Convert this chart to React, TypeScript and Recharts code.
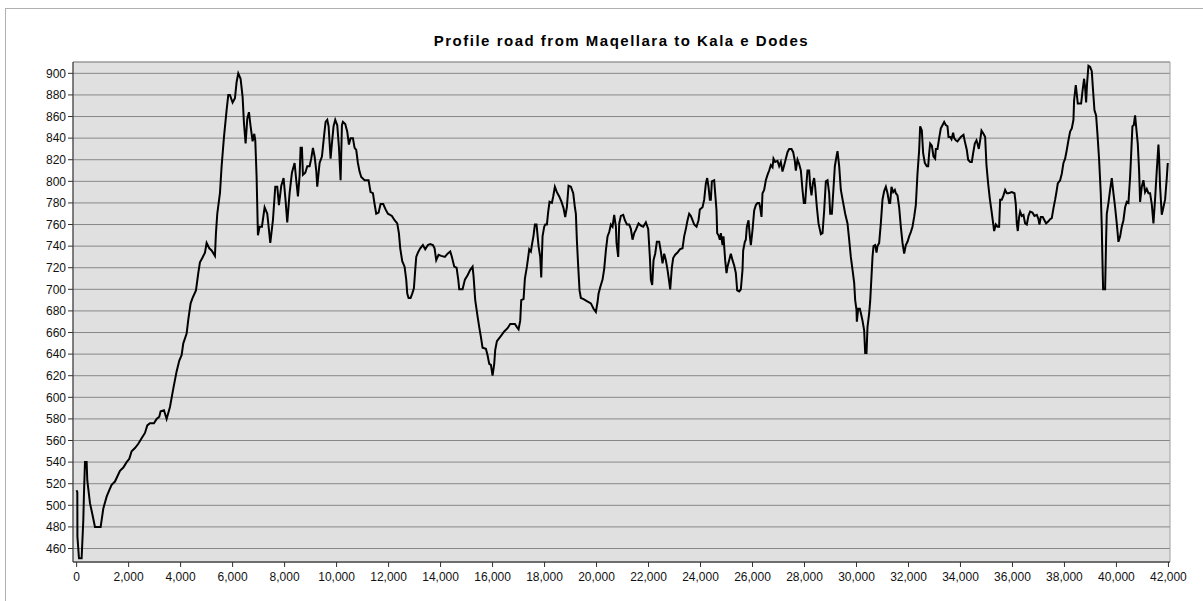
import React from 'react';
import { LineChart, Line, XAxis, YAxis, CartesianGrid, ReferenceArea } from 'recharts';

const chartTitle = 'Profile road from Maqellara to Kala e Dodes';

const distance1 = [0,26,30,90,192,256,282,321,385,410,513,603,705,923,1026,1154,1256,1346,1474,1667,1795,1923,2026,2115,2244,2372,2500,2628,2718,2820,2974,3077,3179,3231,3359,3461,3590,3718,3846,3949,4038,4103,4231,4295,4385,4461,4590,4679,4743,4833,4936,5000,5103,5192,5320,5359,5410,5513,5577,5667,5769,5833,5897,6000,6090,6154,6218,6307,6385,6436,6500,6564,6628,6692,6769,6833,6872,6923];
const elevation1 = [514,512,471,451,451,486,511,540,540,523,502,492,480,480,497,508,514,519,522,532,535,540,543,550,553,557,562,567,574,576,576,580,582,587,588,580,591,608,624,634,639,650,659,672,687,692,699,715,725,729,734,743,738,736,731,752,770,789,814,841,866,880,880,873,877,892,900,895,878,854,835,858,864,851,837,844,838,804];

const distance2 = [6974,7038,7128,7231,7333,7449,7551,7641,7718,7782,7872,7961,8038,8102,8192,8282,8384,8448,8513,8577,8615,8666,8705,8795,8872,8961,9025,9090,9154,9218,9256,9346,9436,9513,9577,9641,9692,9769,9820,9884,9948,10025,10089,10154,10205,10243,10333,10410,10474,10538,10628,10692,10756,10820,10884,10948,11077,11230,11307,11397,11461,11525,11615,11692,11795,11884,11974,12128,12230,12333,12397,12448,12525,12615,12679,12718,12769,12846,12910,12974,13025,13064,13128,13218,13320,13410,13512,13602,13705,13769,13833,13923,14025];
const elevation2 = [750,758,758,776,770,743,764,795,795,778,796,803,782,762,789,808,817,801,786,805,831,831,806,808,814,814,821,831,823,810,795,817,823,841,855,857,851,821,835,851,857,852,832,801,852,855,853,846,834,840,840,831,829,817,809,804,801,801,790,789,779,770,771,779,779,774,770,768,764,761,752,738,726,721,709,696,692,692,696,701,718,730,734,738,741,737,741,742,741,738,727,732,731];

const distance3 = [14167,14269,14372,14436,14526,14616,14680,14718,14846,14936,15039,15141,15231,15269,15333,15423,15487,15551,15615,15744,15808,15872,15936,16000,16064,16103,16167,16295,16449,16577,16680,16769,16859,16936,17000,17064,17103,17192,17244,17321,17372,17410,17474,17513,17577,17628,17692,17769,17833,17872,17923,17987,18026,18090,18141,18192,18282,18333,18397,18474,18564,18654,18731,18795,18859,18923,19013,19103,19167,19205,19244,19295,19346,19397,19500,19628,19782,19885,19974,20038,20077,20141,20231,20295,20359,20423,20487,20551,20615,20679,20744,20769,20833,20872,20936,21026,21090,21167,21256];
const elevation3 = [730,733,735,730,721,720,709,700,700,709,713,718,721,712,690,675,665,656,646,645,639,631,630,620,631,644,652,656,661,664,668,668,668,665,663,671,690,691,710,721,730,737,735,741,750,760,760,740,730,711,749,758,760,760,772,781,780,786,795,790,786,781,775,767,776,796,795,789,776,770,745,721,699,692,691,689,687,682,679,688,696,702,709,719,736,749,753,760,758,769,758,743,730,761,768,769,764,760,760];

const distance4 = [21320,21384,21449,21513,21615,21705,21795,21897,21987,22051,22090,22141,22192,22256,22320,22410,22474,22538,22602,22666,22731,22795,22833,22897,22948,23025,23115,23205,23307,23371,23436,23500,23564,23628,23692,23756,23846,23923,23974,24077,24141,24205,24256,24307,24359,24397,24436,24525,24564,24615,24641,24692,24743,24782,24846,24884,24948,25000,25038,25102,25166,25230,25295,25359,25410,25487,25551,25615,25641,25705,25743,25782,25846,25897,25936,26000,26064,26128,26192,26256,26294,26346,26384,26448,26512,26577,26641,26705,26769,26807,26871,26961,27025,27089,27153,27218,27282,27346,27410,27500,27564,27628,27666,27730,27794,27859,27923,27974,28025,28076,28115,28179,28217,28269,28320,28371,28410];
const elevation4 = [756,746,752,755,761,759,758,762,756,730,709,704,727,733,744,744,735,724,733,727,718,707,700,720,729,732,734,737,738,749,756,764,770,768,764,760,758,764,774,776,783,798,803,795,783,783,800,801,789,773,752,750,746,752,741,749,727,715,721,727,733,727,722,715,699,698,700,718,736,744,746,758,764,749,741,755,773,778,780,780,776,767,789,792,801,806,810,815,813,821,818,819,814,818,809,815,821,827,830,830,827,819,810,820,816,810,792,780,780,798,810,810,796,787,798,803,795];

const distance5 = [28475,28539,28629,28693,28757,28821,28885,28949,28988,29052,29103,29167,29244,29270,29334,29398,29488,29565,29654,29718,29782,29847,29911,29949,30000,30013,30064,30129,30167,30231,30295,30334,30385,30423,30488,30526,30577,30616,30654,30718,30770,30808,30872,30936,31000,31064,31129,31193,31257,31295,31346,31410,31475,31513,31577,31641,31705,31770,31834,31898,31962,32026,32090,32154,32218,32282,32346,32411,32449,32513,32564,32628,32705,32757,32795,32834,32898,32962,33026,33052,33116,33180,33244,33308,33372,33436,33500,33539,33603,33654,33718,33757,33821,33885,33949,34013,34116,34167,34244,34295,34372,34436,34487,34551,34616,34654,34705,34757,34808,34885,34949,35000,35064,35128,35192,35257,35295,35359,35423,35487,35526];
const elevation5 = [776,761,751,752,773,800,801,789,770,770,789,814,825,828,814,792,780,770,761,746,730,718,706,690,681,670,682,682,678,671,662,641,641,665,678,689,712,730,740,741,734,740,743,761,783,791,795,789,780,780,795,790,792,789,787,776,758,743,733,741,744,749,753,758,767,778,807,829,851,847,826,817,814,814,826,835,833,823,821,830,830,840,849,852,855,852,851,841,841,839,845,840,838,837,839,841,843,837,829,820,818,818,826,835,838,835,830,838,847,844,841,815,798,784,773,761,754,760,758,758,783];

const distance6 = [35589,35654,35718,35782,35846,35974,36077,36128,36166,36205,36256,36295,36359,36423,36487,36551,36615,36679,36769,36846,36936,37000,37038,37089,37166,37230,37294,37384,37448,37512,37576,37641,37705,37743,37833,37897,37961,38025,38089,38153,38218,38282,38346,38371,38435,38474,38512,38576,38641,38692,38756,38794,38833,38871,38923,38987,39051,39089,39153,39217,39269,39333,39397,39435,39461,39487,39564,39602,39628,39692,39756,39820,39884,39948,40012,40076,40141,40205,40269,40333,40397,40461,40525,40564,40615,40666,40717,40756,40820,40871,40910,40974,41038,41102,41166,41230,41294,41358,41423,41487,41551,41615,41640,41679,41743,41807,41871,41936,41974];
const elevation6 = [783,787,792,789,789,790,789,779,761,754,767,772,768,769,761,760,768,772,771,768,769,765,760,767,767,764,761,763,765,766,775,783,792,798,801,807,817,821,829,838,846,849,857,875,889,881,872,872,872,883,895,887,873,891,907,906,902,888,866,861,844,820,789,758,727,700,700,746,770,780,792,803,789,776,761,744,749,758,764,776,781,780,804,824,851,852,861,851,835,810,781,795,801,790,793,789,789,779,761,784,810,834,823,795,769,776,783,803,817];

const xTicks = [0,2000,4000,6000,8000,10000,12000,14000,16000,18000,20000,22000,24000,26000,28000,30000,32000,34000,36000,38000,40000,42000];
const yTicks = [460,480,500,520,540,560,580,600,620,640,660,680,700,720,740,760,780,800,820,840,860,880,900];

const xDomain = [-140, 42060];
const yDomain = [447.5, 910.5];

const distance = [...distance1, ...distance2, ...distance3, ...distance4, ...distance5, ...distance6];
const elevation = [...elevation1, ...elevation2, ...elevation3, ...elevation4, ...elevation5, ...elevation6];
const data = distance.map((d, i) => ({ d, e: elevation[i] }));

const font = '"Liberation Sans", Arial, sans-serif';
const fmt = (v: number) => v.toLocaleString('en-US');

export default function App() {
  return (
    <div style={{ position: 'absolute', left: 0, top: 0, width: 1203, height: 601, background: '#fff', overflow: 'hidden' }}>
      <div style={{ position: 'absolute', left: 5, top: 8, width: 1230, height: 630, border: '1px solid #b0b0b0', boxSizing: 'border-box' }} />
      <div style={{ position: 'absolute', left: 73, top: 32, width: 1097, textAlign: 'center', fontFamily: font, fontWeight: 'bold', fontSize: 15, letterSpacing: 1.5, color: '#000', lineHeight: '18px' }}>
        {chartTitle}
      </div>
      <div style={{ position: 'absolute', left: 0, top: 0 }}>
        <LineChart width={1203} height={601} data={data} margin={{ top: 62, right: 33, left: 13, bottom: 9 }}>
          <CartesianGrid vertical={false} fill="#e0e0e0" stroke="#888888" strokeWidth={1} />
          <ReferenceArea x1={xDomain[0]} x2={xDomain[1]} y1={yDomain[0]} y2={yDomain[1]} fill="none" stroke="#a0a0a0" strokeWidth={1} ifOverflow="visible" />
          <XAxis
            dataKey="d"
            type="number"
            domain={xDomain}
            ticks={xTicks}
            interval={0}
            allowDataOverflow
            height={30}
            tickSize={5}
            tickMargin={5}
            stroke="#303030"
            tickFormatter={fmt}
            tick={{ fill: '#111', fontSize: 12, fontFamily: font }}
          />
          <YAxis
            dataKey="e"
            type="number"
            domain={yDomain}
            ticks={yTicks}
            interval={0}
            allowDataOverflow
            width={60}
            tickSize={5}
            tickMargin={2}
            stroke="#303030"
            tick={{ fill: '#111', fontSize: 12, fontFamily: font }}
          />
          <Line type="linear" dataKey="e" stroke="#000" strokeWidth={2} dot={false} isAnimationActive={false} />
        </LineChart>
      </div>
    </div>
  );
}
